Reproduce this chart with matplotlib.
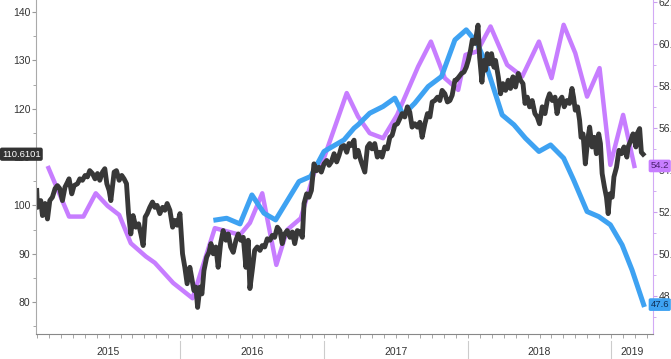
import numpy as np
import matplotlib
matplotlib.use("Agg")
import matplotlib.pyplot as plt
from matplotlib.ticker import MultipleLocator
import matplotlib.transforms as mtransforms

plt.rcParams['font.family'] = ['Liberation Sans Narrow', 'Liberation Sans', 'DejaVu Sans']

# black series (left axis), x in decimal years
black_x = [2015.000, 2015.005, 2015.028, 2015.040, 2015.058, 2015.075, 2015.091, 2015.109, 2015.128, 2015.144,
           2015.160, 2015.179, 2015.197, 2015.214, 2015.225, 2015.244, 2015.260, 2015.284, 2015.300, 2015.318,
           2015.337, 2015.353, 2015.369, 2015.388, 2015.406, 2015.423, 2015.439, 2015.458, 2015.474, 2015.488,
           2015.504, 2015.516, 2015.539, 2015.555, 2015.574, 2015.592, 2015.608, 2015.625, 2015.639, 2015.655,
           2015.671, 2015.690, 2015.709, 2015.725, 2015.741, 2015.755, 2015.769, 2015.787, 2015.806, 2015.822,
           2015.838, 2015.857, 2015.876, 2015.892, 2015.908, 2015.927, 2015.946, 2015.962, 2015.978, 2015.997,
           2016.015, 2016.031, 2016.047, 2016.066, 2016.078, 2016.094, 2016.108, 2016.120, 2016.136, 2016.150,
           2016.164, 2016.183, 2016.199, 2016.213, 2016.229, 2016.247, 2016.263, 2016.280, 2016.298, 2016.317,
           2016.333, 2016.350, 2016.368, 2016.387, 2016.403, 2016.420, 2016.438, 2016.456, 2016.472, 2016.484,
           2016.500, 2016.517, 2016.535, 2016.554, 2016.570, 2016.587, 2016.605, 2016.624, 2016.640, 2016.656,
           2016.675, 2016.693, 2016.709, 2016.726, 2016.744, 2016.763, 2016.779, 2016.796, 2016.814, 2016.833,
           2016.849, 2016.861, 2016.879, 2016.895, 2016.912, 2016.930, 2016.949, 2016.965, 2016.981, 2017.000,
           2017.019, 2017.035, 2017.051, 2017.070, 2017.088, 2017.105, 2017.121, 2017.139, 2017.158, 2017.174,
           2017.190, 2017.209, 2017.218, 2017.237, 2017.256, 2017.272, 2017.284, 2017.302, 2017.318, 2017.334,
           2017.353, 2017.371, 2017.388, 2017.404, 2017.423, 2017.441, 2017.458, 2017.474, 2017.493, 2017.511,
           2017.528, 2017.544, 2017.562, 2017.580, 2017.597, 2017.613, 2017.632, 2017.650, 2017.667, 2017.683,
           2017.702, 2017.720, 2017.737, 2017.753, 2017.771, 2017.790, 2017.806, 2017.822, 2017.841, 2017.859,
           2017.876, 2017.892, 2017.911, 2017.920, 2017.939, 2017.957, 2017.974, 2017.990, 2018.004, 2018.020,
           2018.032, 2018.051, 2018.072, 2018.083, 2018.099, 2018.113, 2018.124, 2018.136, 2018.152, 2018.166,
           2018.183, 2018.194, 2018.213, 2018.229, 2018.245, 2018.264, 2018.282, 2018.298, 2018.315, 2018.333,
           2018.352, 2018.368, 2018.385, 2018.399, 2018.415, 2018.431, 2018.449, 2018.468, 2018.484, 2018.500,
           2018.519, 2018.538, 2018.554, 2018.570, 2018.589, 2018.608, 2018.622, 2018.640, 2018.656, 2018.672,
           2018.691, 2018.709, 2018.726, 2018.737, 2018.749, 2018.765, 2018.779, 2018.789, 2018.803, 2018.819,
           2018.835, 2018.849, 2018.866, 2018.882, 2018.896, 2018.912, 2018.924, 2018.936, 2018.952, 2018.966,
           2018.978, 2018.990, 2019.006, 2019.018, 2019.036, 2019.053, 2019.070, 2019.088, 2019.108, 2019.117,
           2019.136, 2019.151, 2019.171, 2019.179, 2019.197, 2019.209, 2019.221]
black_y = [103.1, 99.6, 101.0, 97.9, 100.4, 97.2, 101.0, 101.7, 103.5, 104.1,
           103.5, 101.0, 103.8, 104.8, 105.5, 102.4, 104.1, 104.5, 105.5, 105.2,
           106.2, 105.9, 107.2, 106.6, 105.5, 106.6, 105.2, 106.9, 107.6, 104.5,
           103.1, 101.0, 106.9, 107.2, 105.2, 106.2, 105.5, 104.5, 98.3, 94.1,
           97.9, 95.5, 96.2, 94.1, 91.7, 97.6, 98.3, 99.6, 100.7, 99.6,
           100.0, 98.3, 99.6, 99.0, 100.4, 99.0, 95.5, 96.9, 95.9, 98.3,
           90.0, 87.2, 83.8, 87.2, 85.2, 82.4, 83.1, 78.9, 83.1, 81.7,
           86.5, 89.3, 90.3, 92.1, 90.0, 91.4, 87.2, 92.1, 94.8, 92.8,
           94.1, 91.4, 90.3, 92.8, 94.1, 92.8, 93.4, 87.2, 92.8, 82.8,
           86.5, 90.7, 91.4, 90.7, 91.7, 91.4, 93.1, 92.8, 93.8, 93.4,
           95.5, 94.8, 92.1, 94.1, 94.8, 93.4, 94.5, 92.1, 94.8, 94.5,
           93.4, 100.4, 102.4, 101.7, 103.1, 108.6, 107.2, 107.9, 106.9, 108.6,
           109.3, 108.3, 109.0, 110.7, 109.0, 110.4, 112.1, 112.4, 111.0, 112.8,
           112.4, 113.5, 110.0, 111.4, 109.3, 107.9, 106.9, 112.1, 112.8, 111.7,
           112.8, 110.0, 111.0, 110.0, 112.1, 111.7, 114.1, 114.5, 116.6, 116.9,
           118.0, 119.0, 118.3, 120.4, 119.3, 116.2, 116.9, 116.2, 117.2, 114.1,
           116.9, 119.0, 118.3, 121.4, 121.7, 122.4, 121.7, 123.8, 123.1, 121.4,
           121.7, 122.8, 125.9, 125.9, 126.6, 127.3, 127.6, 128.6, 130.0, 132.1,
           134.2, 133.5, 137.3, 130.7, 125.5, 130.0, 128.0, 131.4, 129.3, 131.4,
           128.6, 130.0, 126.6, 123.1, 125.2, 123.8, 125.9, 124.2, 126.6, 124.5,
           127.3, 125.9, 125.2, 121.1, 122.4, 120.4, 121.7, 119.0, 118.3, 116.9,
           120.4, 119.0, 121.7, 123.1, 121.7, 122.4, 119.0, 121.7, 122.4, 120.4,
           121.7, 121.1, 124.2, 122.4, 119.7, 120.4, 117.6, 114.1, 114.8, 108.6,
           113.5, 116.2, 112.1, 114.1, 110.7, 114.8, 112.8, 106.6, 103.8, 101.7,
           98.3, 102.4, 101.7, 105.9, 107.9, 111.4, 110.7, 112.1, 110.0, 112.1,
           113.5, 114.8, 112.1, 114.8, 115.9, 111.0, 110.6]

# purple series (right axis)
purple_x = [2015.082, 2015.225, 2015.325, 2015.411, 2015.493, 2015.574, 2015.655, 2015.760, 2015.822, 2015.950,
            2016.085, 2016.240, 2016.415, 2016.484, 2016.570, 2016.668, 2016.744, 2016.838, 2016.930, 2016.988,
            2017.158, 2017.237, 2017.318, 2017.411, 2017.509, 2017.655, 2017.744, 2017.841, 2017.934, 2017.985,
            2018.066, 2018.159, 2018.275, 2018.380, 2018.496, 2018.584, 2018.668, 2018.749, 2018.831, 2018.918,
            2018.993, 2019.082, 2019.160]
purple_y = [54.10, 51.79, 51.79, 52.90, 52.30, 51.87, 50.52, 49.89, 49.59, 48.63,
            47.90, 51.24, 50.92, 51.49, 52.90, 49.49, 51.16, 51.71, 53.86, 54.35,
            57.67, 56.55, 55.76, 55.52, 56.63, 58.93, 60.12, 58.38, 57.82, 59.49,
            59.65, 60.84, 59.01, 58.46, 60.12, 58.38, 60.92, 59.57, 57.50, 58.86,
            54.25, 56.63, 54.20]

# blue series (right axis)
blue_x = [2016.247, 2016.322, 2016.415, 2016.498, 2016.582, 2016.663, 2016.826, 2016.907, 2017.000, 2017.058,
          2017.139, 2017.209, 2017.237, 2017.318, 2017.411, 2017.493, 2017.551, 2017.632, 2017.725, 2017.818,
          2017.911, 2017.990, 2018.066, 2018.124, 2018.240, 2018.322, 2018.402, 2018.496, 2018.577, 2018.668,
          2018.737, 2018.831, 2018.912, 2018.993, 2019.075, 2019.144, 2019.225]
blue_y = [51.63, 51.71, 51.44, 52.82, 51.95, 51.63, 53.46, 53.70, 54.89, 55.12,
          55.44, 56.00, 56.16, 56.71, 57.03, 57.43, 56.63, 57.19, 57.98, 58.46,
          60.20, 60.68, 60.05, 59.10, 56.63, 56.16, 55.52, 54.89, 55.20, 54.57,
          53.54, 52.03, 51.79, 51.40, 50.44, 49.25, 47.60]

years = ['2015', '2016', '2017', '2018', '2019']
year_starts = [2015, 2016, 2017, 2018, 2019]
x_end = 2019.29

c_black = '#383838'
c_purple = '#c77dff'
c_blue = '#3ea2f2'

fig = plt.figure(figsize=(6.71, 3.59), dpi=100)
ax = fig.add_axes([36 / 671, 1 - 334 / 359, (653 - 36) / 671, 334 / 359])
ax2 = ax.twinx()
ax.set_zorder(ax2.get_zorder() + 1)
ax.patch.set_visible(False)

ax2.plot(purple_x, purple_y, color=c_purple, lw=3.2)
ax2.plot(blue_x, blue_y, color=c_blue, lw=3.6)
ax.plot(black_x, black_y, color=c_black, lw=3.5, solid_joinstyle='round')

ax.set_xlim(2014.995, x_end)
ax.set_ylim(73.4, 142.5)
ax2.set_ylim(46.2, 62.1)

# left axis
ax.yaxis.set_major_locator(MultipleLocator(10))
ax.yaxis.set_minor_locator(MultipleLocator(5))
ax.tick_params(axis='y', which='major', length=3, color='#999999', labelsize=7.5, labelcolor='#333333', pad=1)
ax.tick_params(axis='y', which='minor', length=2, color='#999999')
for s in ['top', 'right']:
    ax.spines[s].set_visible(False)
ax.spines['left'].set_color('#aaaaaa')
ax.spines['bottom'].set_color('#888888')

# right axis
ax2.yaxis.set_major_locator(MultipleLocator(2))
ax2.yaxis.set_minor_locator(MultipleLocator(1))
ax2.yaxis.set_major_formatter(matplotlib.ticker.FormatStrFormatter('%.1f'))
ax2.tick_params(axis='y', which='major', length=3, color='#c9a0ee', labelsize=7.5, labelcolor='#333333', pad=1)
ax2.tick_params(axis='y', which='minor', length=2, color='#c9a0ee')
for s in ['top', 'left', 'bottom']:
    ax2.spines[s].set_visible(False)
ax2.spines['right'].set_color('#d2aaf5')

# x axis: monthly minor ticks, year labels centred
months = np.arange(2015, x_end, 1 / 12)
ax.set_xticks(months, minor=True)
ax.set_xticks([])
ax.tick_params(axis='x', which='minor', length=3, color='#999999', direction='out')
trans = mtransforms.blended_transform_factory(ax.transData, ax.transAxes)
for i, lab in enumerate(years):
    x0 = year_starts[i]
    x1 = min(x0 + 1, x_end)
    ax.text((x0 + x1) / 2, -0.054, lab, transform=trans, ha='center', va='center',
            fontsize=7.5, color='#333333')
    if i > 0:
        ax.plot([x0, x0], [-0.02, -0.08], transform=trans, color='#cccccc', lw=0.8, clip_on=False)

# last-value tags
ax.text(0.003, black_y[-1], '110.6101', transform=mtransforms.blended_transform_factory(fig.transFigure, ax.transData),
        ha='left', va='center', fontsize=6.8, color='white', clip_on=False, zorder=10,
        bbox=dict(boxstyle='round,pad=0.15', fc='#333333', ec='#333333'))
right_tag = mtransforms.blended_transform_factory(fig.transFigure, ax2.transData)
ax2.text(0.997, purple_y[-1], '54.2', transform=right_tag,
         ha='right', va='center', fontsize=6.8, color='#4a2070', clip_on=False, zorder=10,
         bbox=dict(boxstyle='round,pad=0.12', fc=c_purple, ec=c_purple))
ax2.text(0.997, blue_y[-1], '47.6', transform=right_tag,
         ha='right', va='center', fontsize=6.8, color='#0d2d55', clip_on=False, zorder=10,
         bbox=dict(boxstyle='round,pad=0.12', fc=c_blue, ec=c_blue))

plt.savefig('out.png', dpi=100)
